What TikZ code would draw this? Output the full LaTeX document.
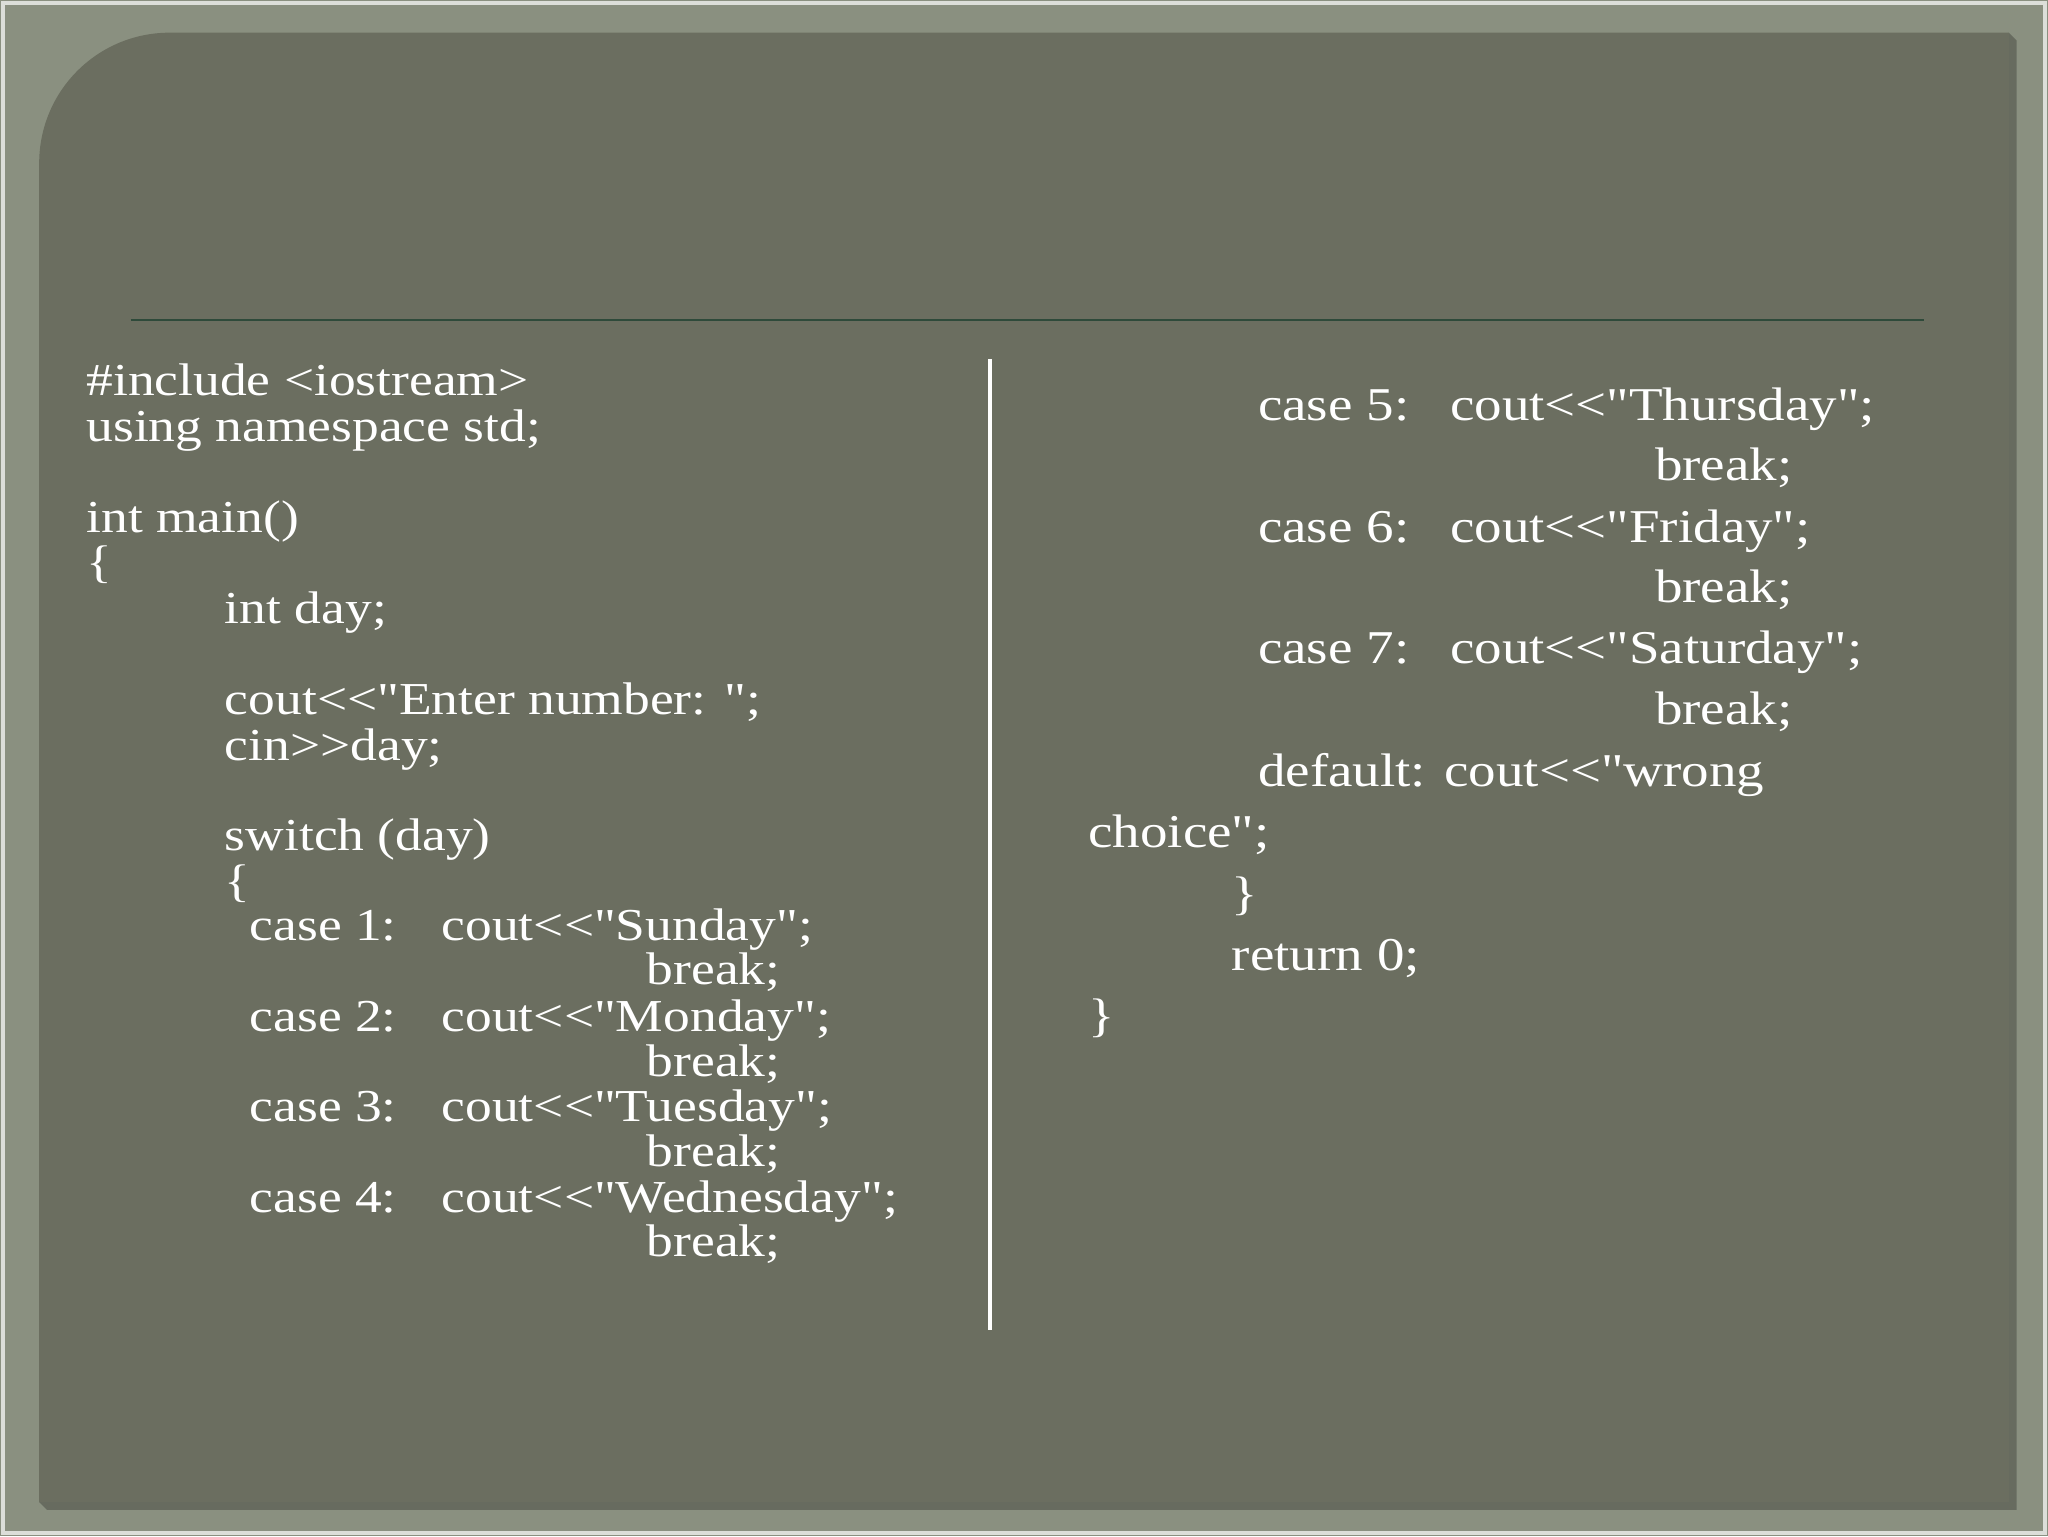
\documentclass[tikz,border=0pt]{standalone}
\usepackage{fontspec}
\newfontfamily\codefont[FakeStretch=1.17]{Liberation Serif}
\definecolor{outerbg}{HTML}{8A9080}
\definecolor{panel}{HTML}{6B6E60}
\definecolor{rule}{HTML}{2E4A3A}
\begin{document}
\begin{tikzpicture}[x=1pt,y=-1pt,
  code/.style={anchor=base west,inner sep=0pt,text=white,font=\codefont\fontsize{35}{40}\selectfont},
  rcode/.style={code,font=\codefont\fontsize{36}{42}\selectfont}]
\useasboundingbox (0,0) rectangle (1568,1176);
\fill[outerbg] (0,0) rectangle (1568,1176);
\draw[white!70!outerbg,line width=3pt] (2,2) rectangle (1566,1174);
\fill[black!50!outerbg,opacity=0.5] (36,1156) -- (1544,1156) -- (1544,31) -- (1538,25) -- (1538,1150) -- (30,1150) -- cycle;
\fill[panel] (130,25) -- (1538,25) -- (1538,1150) -- (30,1150) -- (30,125) to[out=90,in=180] (130,25) -- cycle;
\draw[rule,line width=1.5pt] (100,245) -- (1473,245);
\draw[white,line width=3pt] (758,275) -- (758,1018);
\node[code] (l1) at (66,303) {\#include <iostream>};
\node[code] (l2) at (66,338) {using namespace std;};
\node[code] (l3) at (66,408) {int main()};
\node[code] (l4) at (66,442) {\{};
\node[code] (l5) at (172,477) {int day;};
\node[code] (l6) at (172,547) {cout<<"Enter number: ";};
\node[code] (l7) at (172,582) {cin>>day;};
\node[code] (l8) at (172,651) {switch (day)};
\node[code] (l9) at (172,686) {\{};
\node[code] (c1) at (191,720) {case 1:};
\node[code] (o1) at (338,720) {cout<<"Sunday";};
\node[code] (b1) at (495,754) {break;};
\node[code] (c2) at (191,790) {case 2:};
\node[code] (o2) at (338,790) {cout<<"Monday";};
\node[code] (b2) at (495,824) {break;};
\node[code] (c3) at (191,859) {case 3:};
\node[code] (o3) at (338,859) {cout<<"Tuesday";};
\node[code] (b3) at (495,893) {break;};
\node[code] (c4) at (191,928) {case 4:};
\node[code] (o4) at (338,928) {cout<<"Wednesday";};
\node[code] (b4) at (495,962) {break;};
\node[rcode] (c5) at (963,322) {case 5:};
\node[rcode] (o5) at (1110,322) {cout<<"Thursday";};
\node[rcode] (b5) at (1267,368) {break;};
\node[rcode] (c6) at (963,415) {case 6:};
\node[rcode] (o6) at (1110,415) {cout<<"Friday";};
\node[rcode] (b6) at (1267,461) {break;};
\node[rcode] (c7) at (963,508) {case 7:};
\node[rcode] (o7) at (1110,508) {cout<<"Saturday";};
\node[rcode] (b7) at (1267,555) {break;};
\node[rcode] (d) at (963,602) {default: cout<<"wrong};
\node[rcode] (ch) at (833,649) {choice";};
\node[rcode] (cb) at (943,696) {\}};
\node[rcode] (ret) at (943,743) {return 0;};
\node[rcode] (fb) at (833,790) {\}};
\end{tikzpicture}
\end{document}
